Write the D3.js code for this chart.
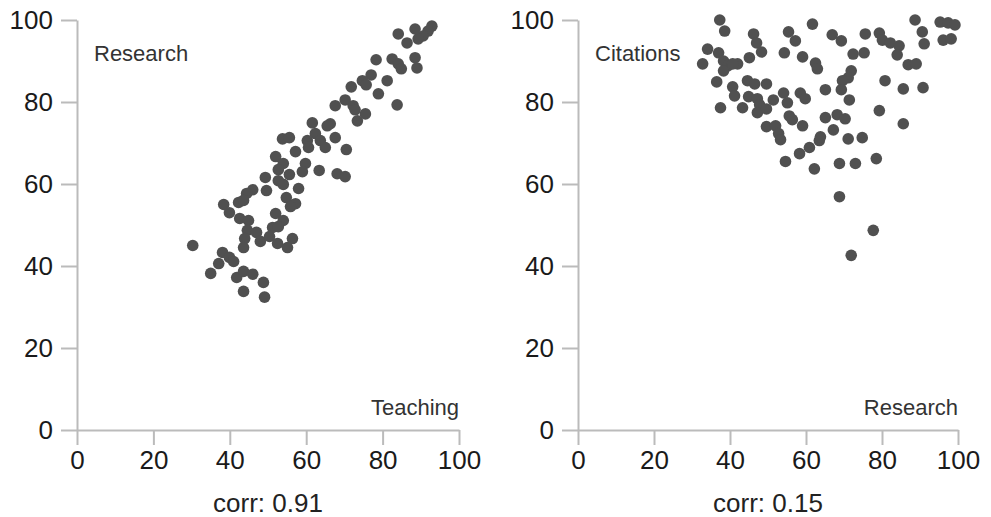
<!DOCTYPE html>
<html>
<head>
<meta charset="utf-8">
<script src="https://cdn.jsdelivr.net/npm/d3@7"></script>
<style>
  body { margin: 0; background: #fff; }
  svg { display: block; font-family: "Liberation Sans", Arial, sans-serif; }
  .axis path, .axis line { stroke: #bbb; stroke-width: 2; }
  .axis text { fill: #1a1a1a; font-size: 26px; }
  .name { fill: #333; font-size: 22px; }
  .corr { fill: #222; font-size: 26px; }
  .dot { fill: #505050; }
</style>
</head>
<body>
<div id="chart"></div>
<script>
// panel 1: Teaching (x) vs Research (y)
const teachingA = [
  92.9, 91.9, 90.6, 89.3, 88.5, 84.1, 86.4, 78.3, 82.5, 84.1, 84.9, 88.5, 89.0,
  77.0, 74.7, 75.7, 81.2, 71.8, 78.9, 70.2, 72.3, 72.8, 75.5, 67.6, 73.4, 83.8, 66.3,
  61.6, 65.5, 62.4, 60.3, 63.7, 65.0, 67.6, 70.5, 53.8, 55.6, 57.2, 60.6, 52.0, 54.0,
  52.7, 55.6, 59.8, 59.0, 63.4, 68.1, 70.2, 49.3, 52.7, 54.0, 46.0, 44.4, 49.6, 58.0,
  54.8, 57.2, 55.9,
  38.4, 42.3, 43.6, 39.9, 42.6, 44.9, 52.0, 54.0, 51.2, 52.7, 44.6, 47.0, 43.9, 48.0,
  50.4, 52.5, 55.1, 56.4, 43.6, 30.3, 38.1, 39.9, 41.0, 37.1, 35.0, 41.8, 43.6, 46.0,
  48.8, 43.6, 49.1
];
const researchA = [
  98.5, 97.3, 96.1, 95.4, 97.8, 96.6, 94.4, 90.3, 90.5, 89.3, 88.1, 90.8, 88.3,
  86.6, 85.2, 84.2, 85.2, 83.7, 82.0, 80.5, 79.1, 78.1, 77.1, 79.1, 75.4, 79.3, 74.7,
  74.9, 74.2, 72.3, 70.6, 70.6, 68.9, 71.3, 68.4, 71.0, 71.3, 67.9, 68.9, 66.7, 65.0,
  63.5, 62.3, 65.0, 63.0, 63.3, 62.5, 61.8, 61.6, 60.8, 59.9, 58.6, 57.7, 58.4, 58.9,
  56.7, 55.2, 54.5,
  55.0, 55.5, 56.0, 53.0, 51.6, 51.1, 52.8, 51.1, 49.4, 49.6, 48.7, 48.2, 46.7, 46.0,
  47.2, 45.5, 44.5, 46.7, 44.5, 45.0, 43.3, 42.1, 41.1, 40.6, 38.2, 37.2, 38.7, 38.0,
  36.0, 33.8, 32.4
];

// panel 2: Research (x) vs Citations (y)
const researchB = [
  37.3, 38.6, 46.2, 47.0, 48.3, 55.4, 57.2, 54.3, 59.1, 61.7, 34.1, 32.8, 37.0, 38.3,
  39.4, 38.3, 42.0, 40.7, 45.1, 36.5, 40.7, 41.2, 44.6, 46.5, 49.6, 44.9, 47.2, 47.8,
  47.2, 49.6, 51.4, 37.5, 43.3, 54.1, 55.1, 58.5, 59.8, 55.6, 56.4, 59.1, 49.6, 52.0,
  52.8, 53.3, 58.3, 60.9, 54.6, 62.2, 63.5, 62.5, 63.0, 65.1, 66.9, 69.3, 72.4, 75.3,
  75.6, 71.9, 71.1, 69.6, 69.3, 71.4, 65.1, 68.2, 70.3, 67.2, 63.8, 71.1, 74.8, 68.8,
  73.0, 78.5, 79.3, 80.8, 85.6, 90.8, 85.6, 79.3, 80.1, 82.2, 84.5, 84.0, 86.9, 89.0,
  88.7, 90.6, 91.1, 95.3, 97.4, 99.2, 96.1, 98.2, 68.8, 77.7, 71.9
];
const citationsB = [
  100.0, 97.3, 96.6, 94.4, 92.2, 97.1, 94.9, 92.0, 91.0, 99.0, 92.9, 89.3, 92.0, 90.0,
  88.8, 87.6, 89.3, 89.3, 90.8, 84.9, 83.7, 81.5, 85.2, 84.4, 84.4, 81.3, 80.8, 79.3,
  77.4, 78.3, 80.5, 78.6, 78.6, 82.2, 79.8, 82.2, 80.8, 76.6, 75.7, 74.2, 74.0, 74.2,
  72.3, 70.8, 67.4, 68.9, 65.5, 63.7, 70.6, 89.5, 88.1, 83.0, 96.4, 94.9, 91.7, 92.0,
  96.6, 87.6, 85.9, 85.2, 83.0, 80.5, 76.2, 76.9, 75.9, 73.2, 71.5, 71.0, 71.3, 65.0,
  65.0, 66.2, 77.9, 85.2, 83.2, 83.5, 74.7, 96.8, 95.1, 94.4, 93.7, 91.5, 89.1, 89.3,
  100.0, 97.1, 94.2, 99.5, 99.3, 98.8, 95.1, 95.4, 56.9, 48.7, 42.6
];

const tickValues = [0, 20, 40, 60, 80, 100];

const panels = [
  { xs: teachingA, ys: researchA, xName: 'Teaching', yName: 'Research', corr: 'corr: 0.91', left: 77, right: 459 },
  { xs: researchB, ys: citationsB, xName: 'Research', yName: 'Citations', corr: 'corr: 0.15', left: 578, right: 958 }
];

const width = 991;
const height = 517;
const plotTop = 20;
const plotBottom = 430;

const svg = d3.select('#chart')
  .append('svg')
  .attr('width', width)
  .attr('height', height);

panels.forEach(p => {
  const x = d3.scaleLinear().domain([0, 100]).range([p.left, p.right]);
  const y = d3.scaleLinear().domain([0, 100]).range([plotBottom, plotTop]);

  svg.append('g')
    .classed('axis', true)
    .attr('transform', `translate(0,${plotBottom})`)
    .call(d3.axisBottom(x).tickValues(tickValues).tickSize(15).tickSizeOuter(0).tickPadding(6));

  svg.append('g')
    .classed('axis', true)
    .attr('transform', `translate(${p.left},0)`)
    .call(d3.axisLeft(y).tickValues(tickValues).tickSize(16).tickSizeOuter(0).tickPadding(8));

  svg.selectAll('.axis').attr('font-size', null).attr('font-family', null);

  svg.append('text')
    .classed('name', true)
    .attr('x', p.left + 17)
    .attr('y', y(92))
    .attr('dy', '0.35em')
    .text(p.yName);

  svg.append('text')
    .classed('name', true)
    .attr('x', p.right)
    .attr('y', y(5.6))
    .attr('dy', '0.35em')
    .attr('text-anchor', 'end')
    .text(p.xName);

  svg.append('text')
    .classed('corr', true)
    .attr('x', (p.left + p.right) / 2)
    .attr('y', 503)
    .attr('dy', '0.35em')
    .attr('text-anchor', 'middle')
    .text(p.corr);

  svg.append('g')
    .selectAll('circle')
    .data(p.xs.map((v, i) => [v, p.ys[i]]))
    .enter()
    .append('circle')
    .classed('dot', true)
    .attr('cx', d => x(d[0]))
    .attr('cy', d => y(d[1]))
    .attr('r', 5.8);
});
</script>
</body>
</html>
